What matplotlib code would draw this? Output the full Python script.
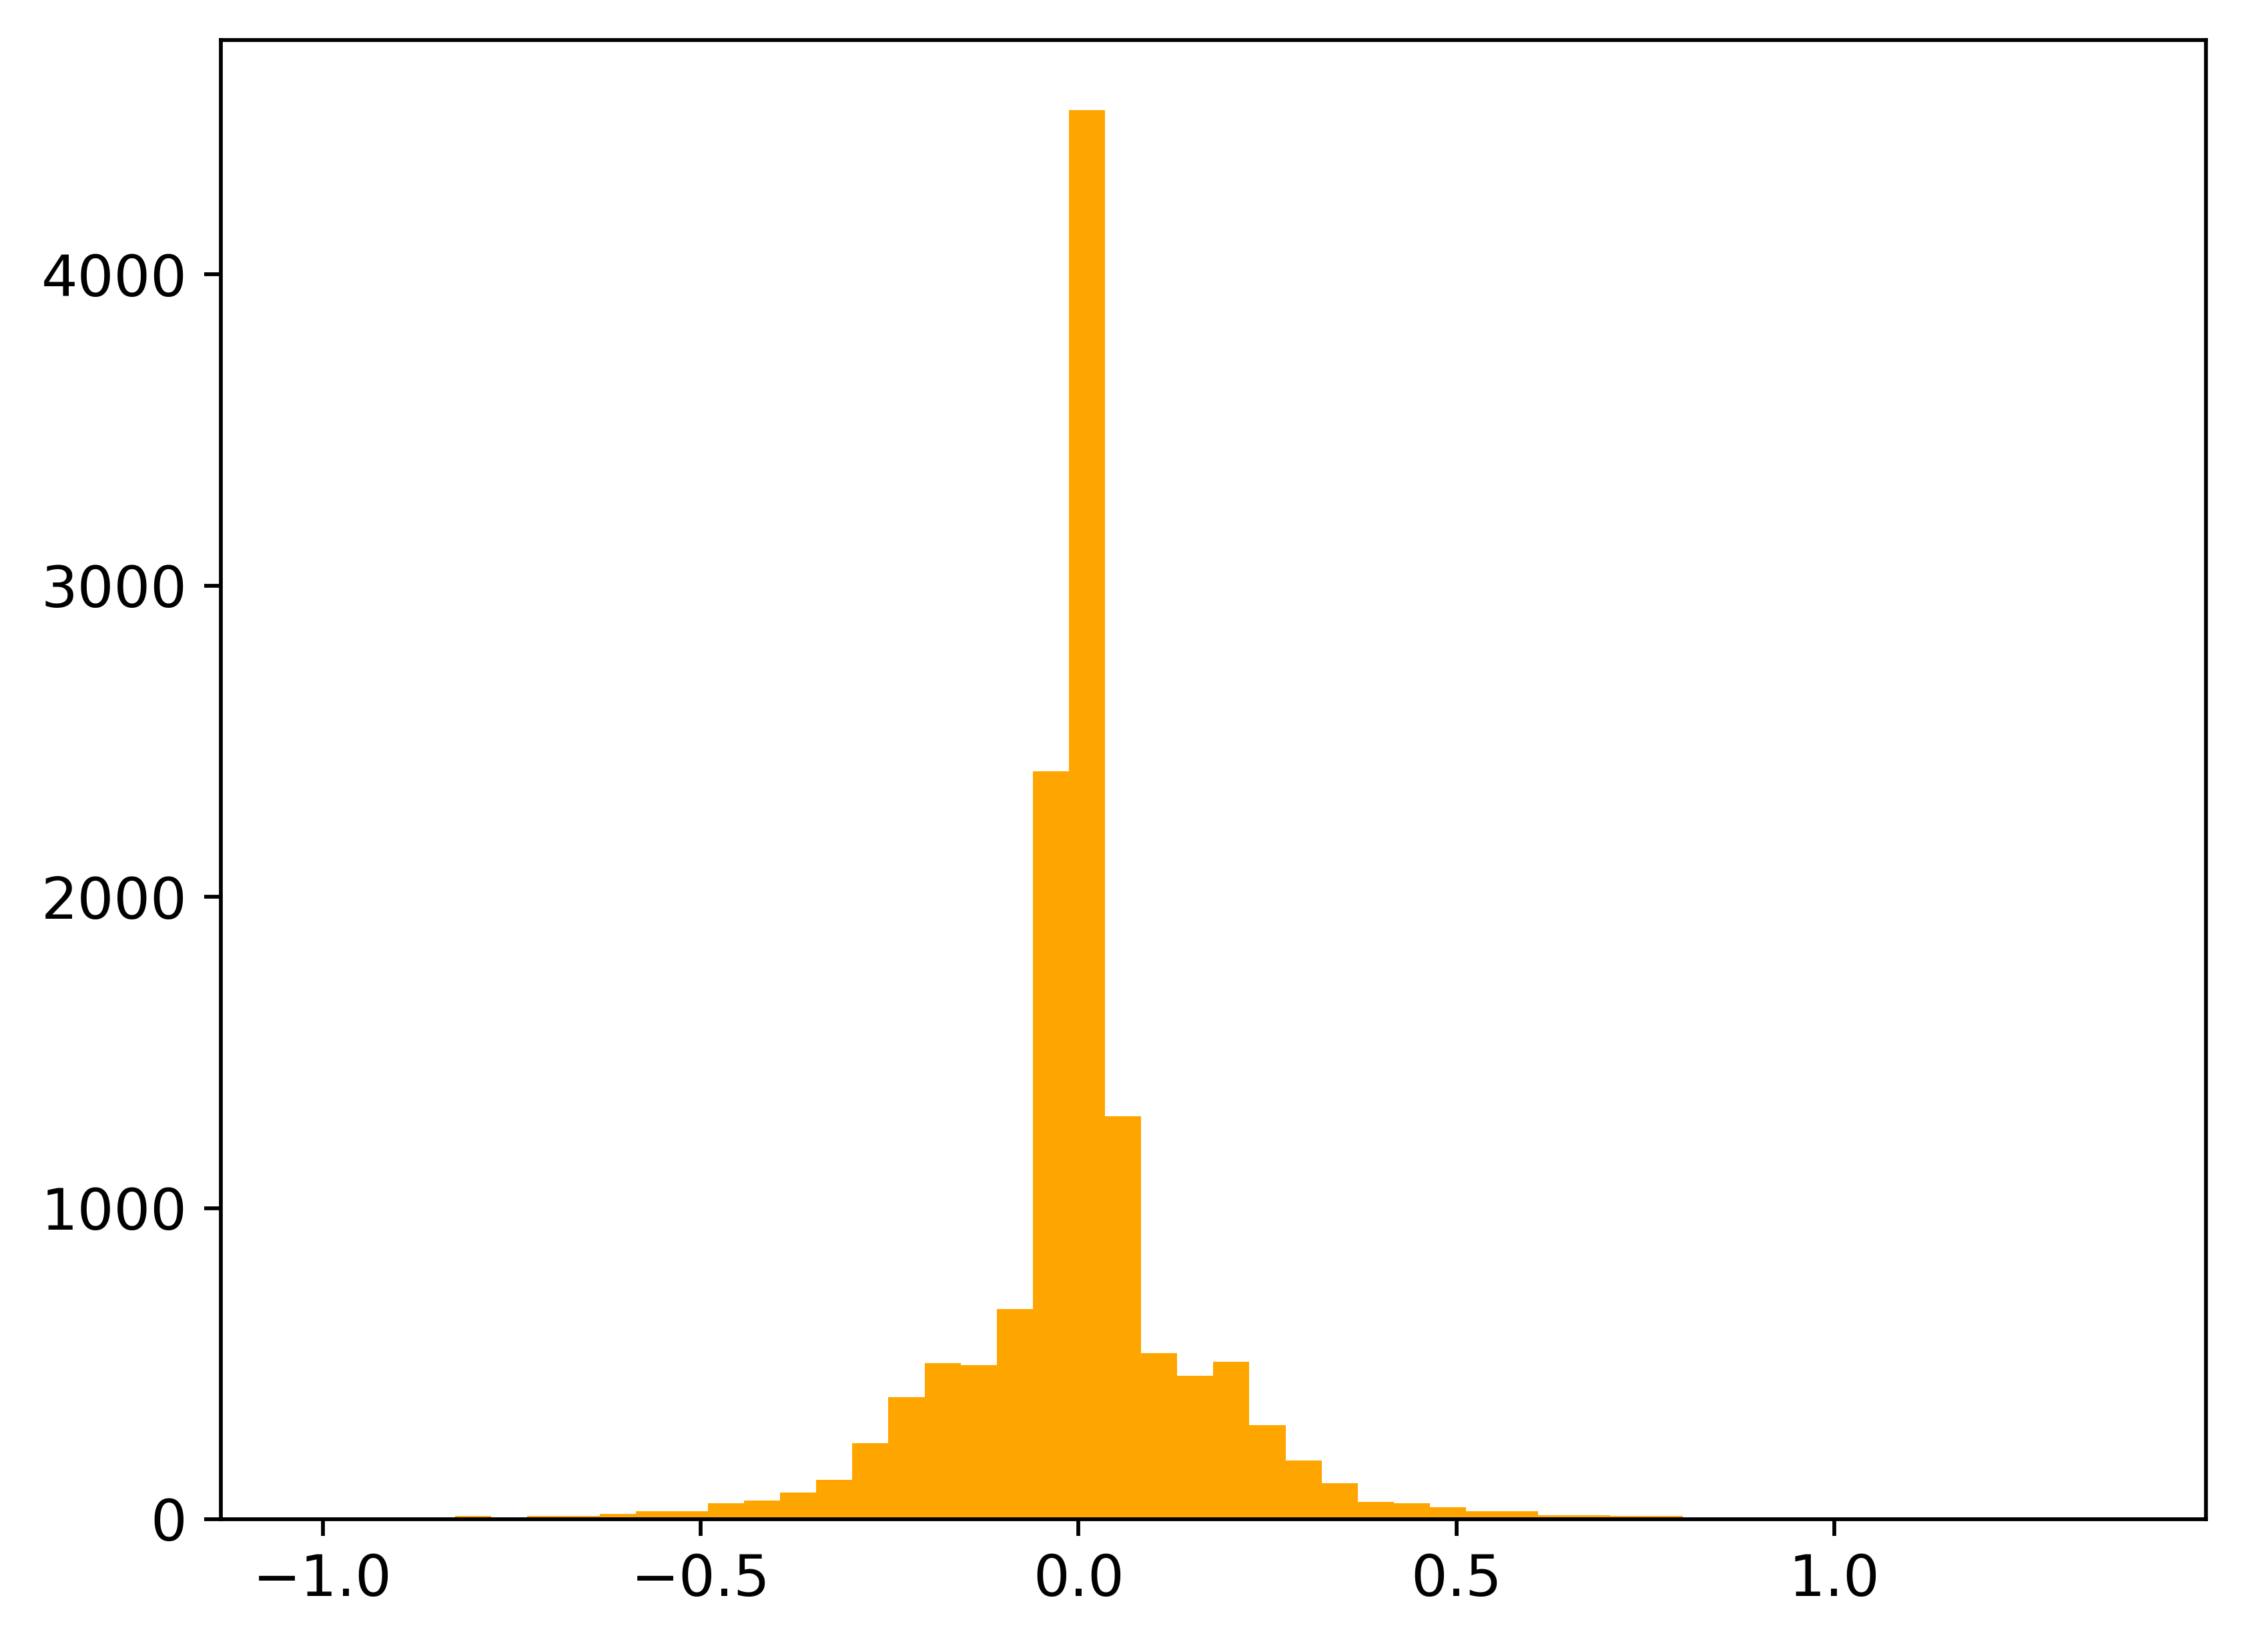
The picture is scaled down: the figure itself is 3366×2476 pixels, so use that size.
import numpy as np
import matplotlib
matplotlib.use("Agg")
import matplotlib.pyplot as plt

# Histogram data (50 equal-width bins)
bin_start = -1.0157
bin_end = 1.3723
n_bins = 50
counts = [1, 0, 0, 1, 11, 2, 11, 11, 17, 26,
          26, 51, 60, 86, 126, 244, 392, 502, 495, 675,
          2403, 4527, 1295, 533, 460, 506, 302, 189, 116, 56,
          51, 39, 26, 26, 13, 13, 11, 11, 2, 1,
          1, 0, 1, 0, 0, 0, 0, 0, 0, 1]

edges = np.linspace(bin_start, bin_end, n_bins + 1)
centers = 0.5 * (edges[:-1] + edges[1:])

DPI = 516
fig = plt.figure(figsize=(3366 / DPI, 2476 / DPI), dpi=DPI)
ax = fig.add_axes([0.0982, 0.0804, 0.9822 - 0.0982, 0.9758 - 0.0804])
ax.hist(centers, bins=edges, weights=counts, color="orange")
ax.tick_params(labelsize=12)

fig.savefig("out.png", dpi=DPI)
